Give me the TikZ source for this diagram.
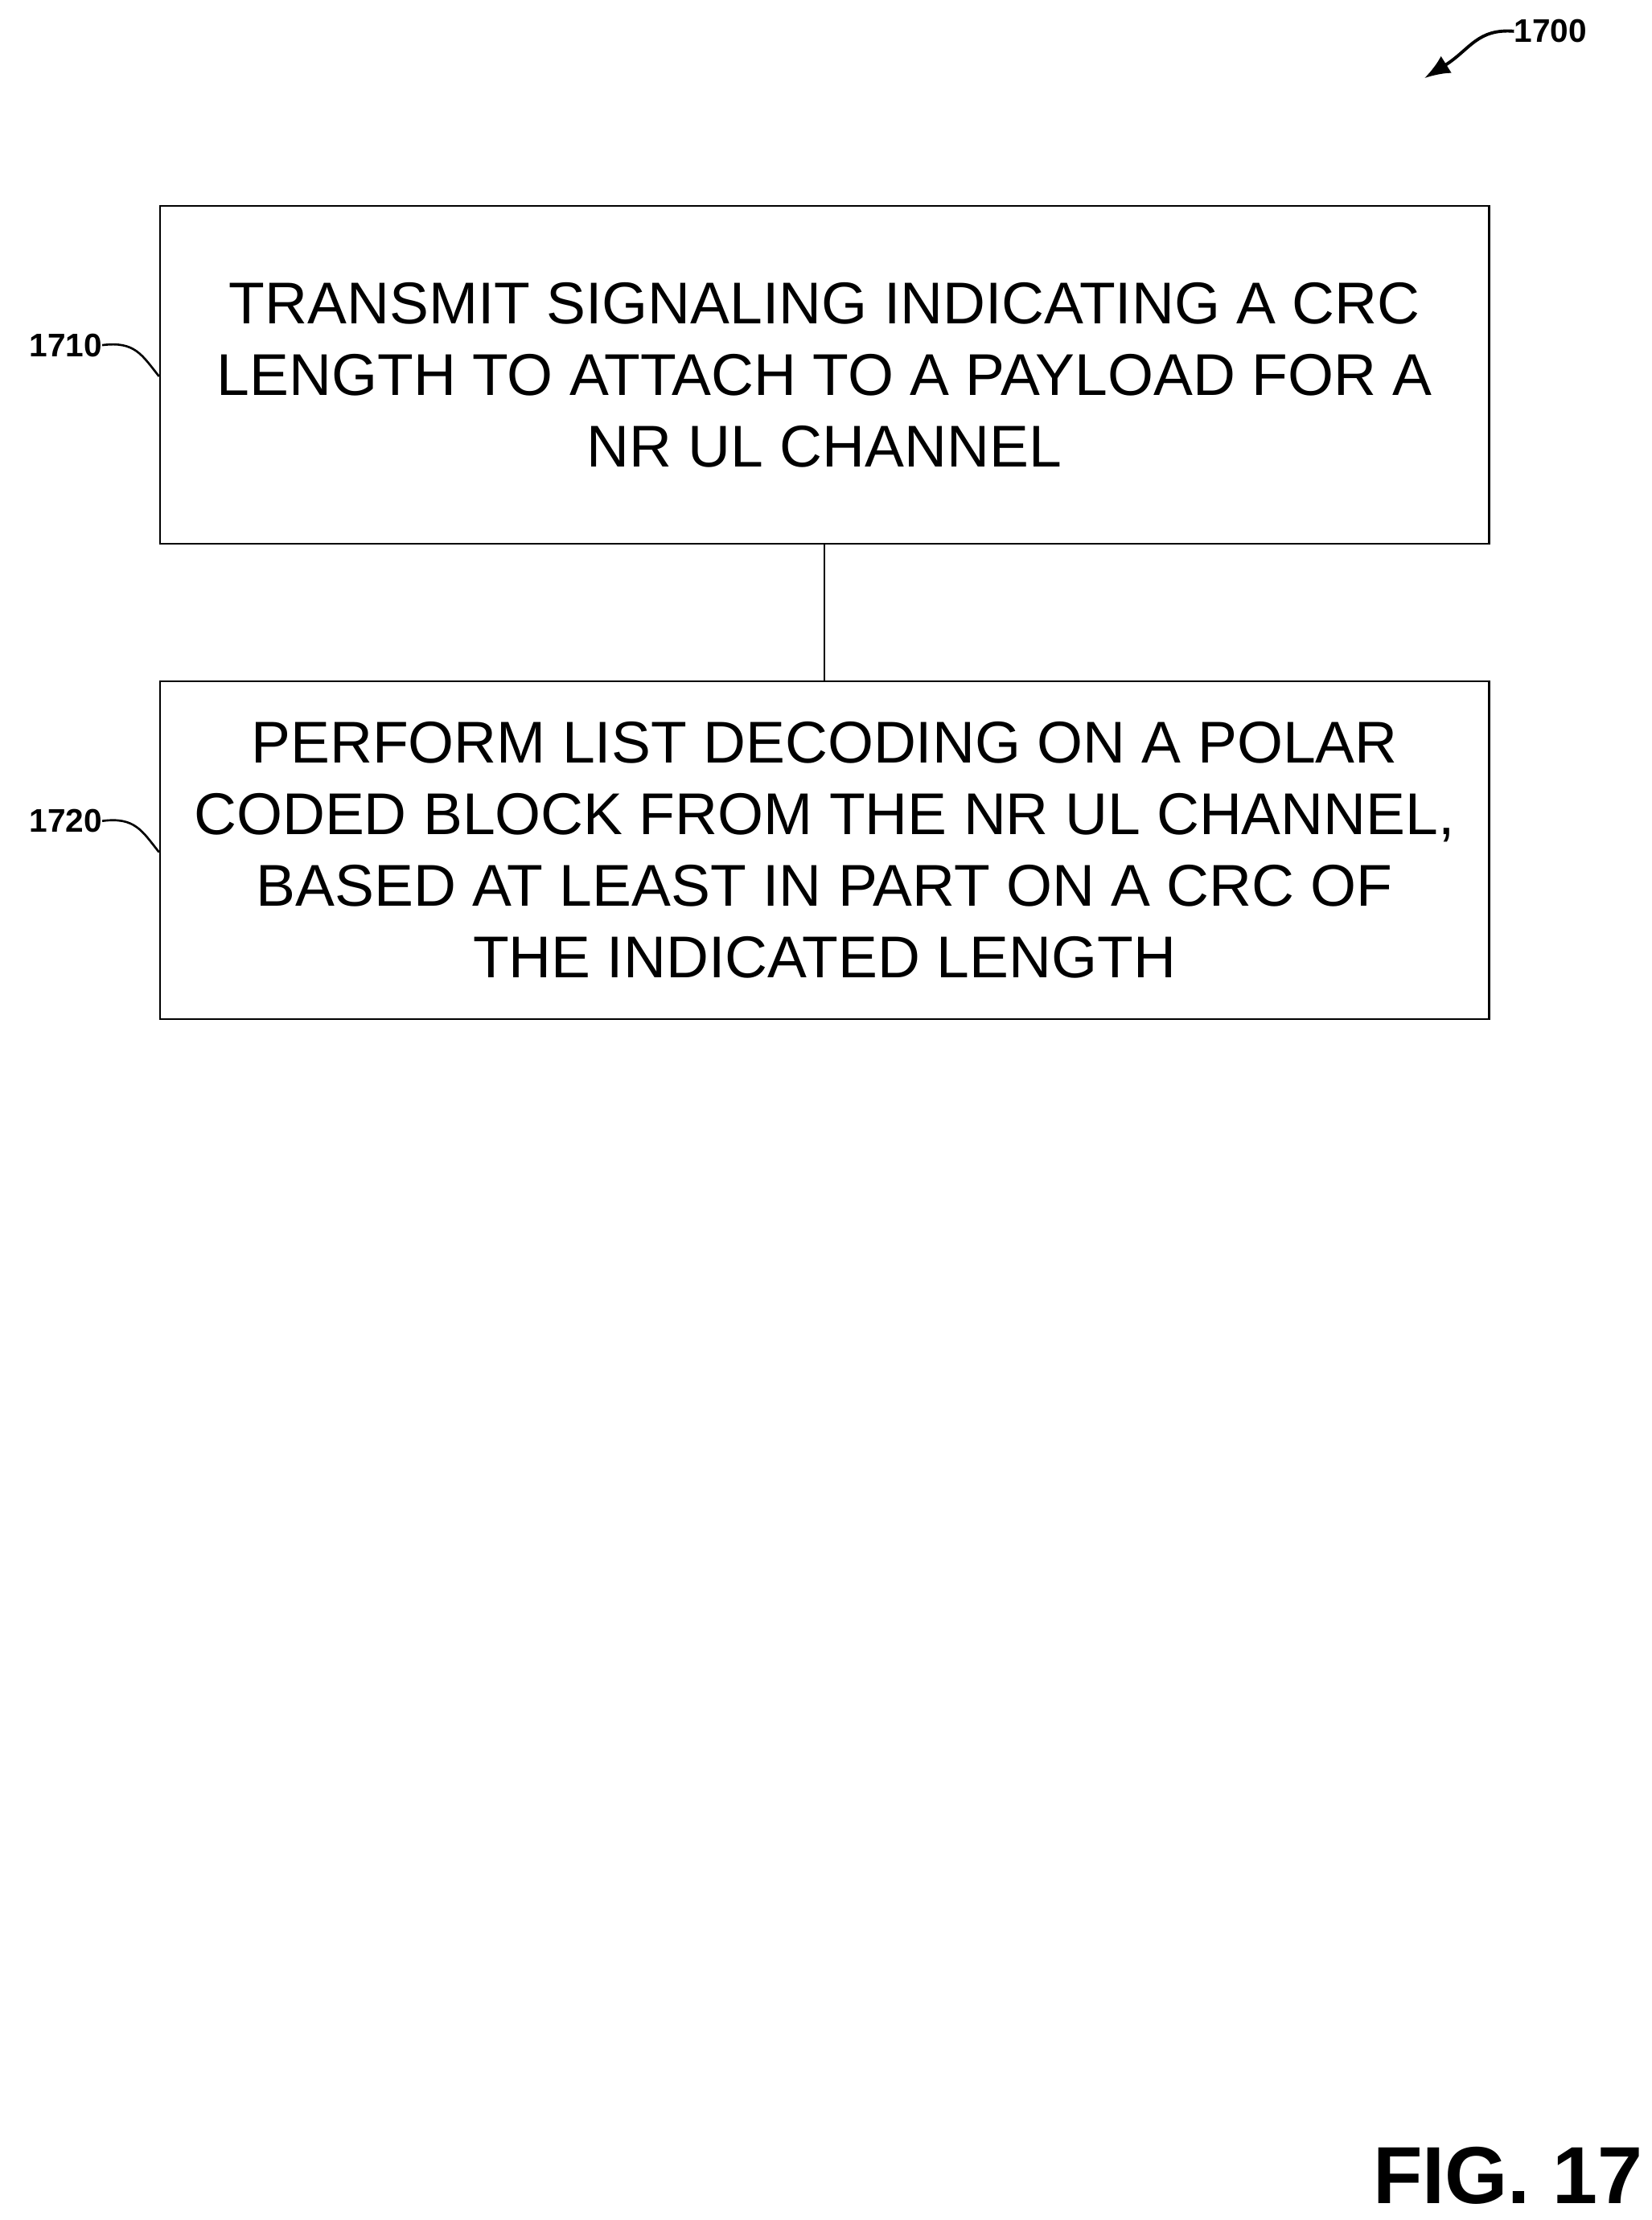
\documentclass[tikz,border=0pt]{standalone}
\usepackage{fontspec}
\setmainfont{Liberation Sans}
\usetikzlibrary{arrows.meta}
\begin{document}
\begin{tikzpicture}[x=1pt,y=-1pt,
  box/.style={draw,line width=1.3pt,minimum width=936pt,minimum height=238pt,align=center,font=\fontsize{41.5}{50.5}\selectfont,inner sep=0pt},
  lbl/.style={font=\bfseries\fontsize{23}{26}\selectfont,inner sep=0pt}]
\useasboundingbox (0,0) rectangle (1163,1563);
\node[box] (b1) at (580.5,264) {TRANSMIT SIGNALING INDICATING A CRC\\LENGTH TO ATTACH TO A PAYLOAD FOR A\\NR UL CHANNEL};
\node[box] (b2) at (580.5,598.5) {PERFORM LIST DECODING ON A POLAR\\CODED BLOCK FROM THE NR UL CHANNEL,\\BASED AT LEAST IN PART ON A CRC OF\\THE INDICATED LENGTH};
\draw[line width=1.3pt] (b1.south) -- (b2.north);
\node[lbl,anchor=east] (l1) at (72,243) {1710};
\draw[line width=1.5pt] (l1.east) .. controls (95,240) and (100,250) .. (112,265);
\node[lbl,anchor=east] (l2) at (72,578) {1720};
\draw[line width=1.5pt] (l2.east) .. controls (95,575) and (100,585) .. (112,600);
\node[lbl,anchor=west] (l0) at (1066,22) {1700};
\coordinate (a0) at (1003,55);
\draw[line width=2.2pt,-{Latex[length=18pt,width=14pt]}] (l0.west) .. controls (1040,20) and (1035,35) .. (a0);
\node[font=\bfseries\fontsize{57}{60}\selectfont,anchor=east,inner sep=0pt] (fig) at (1157,1532) {FIG. 17};
\end{tikzpicture}
\end{document}
